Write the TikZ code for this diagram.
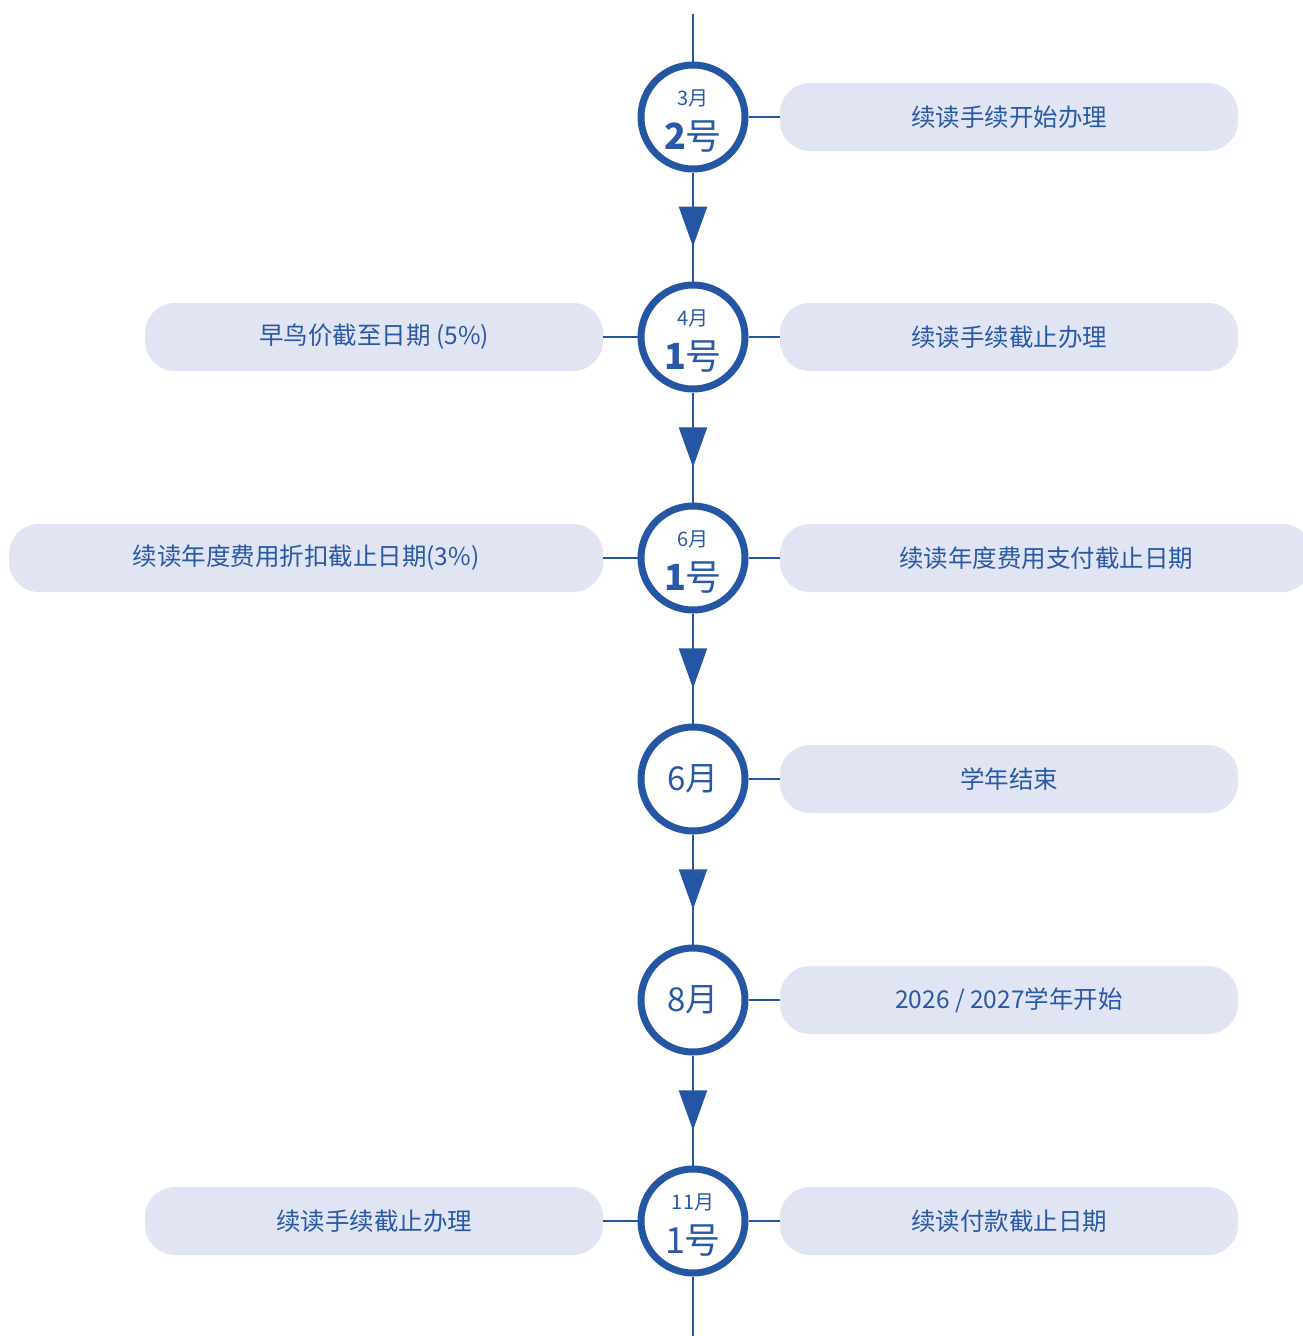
\documentclass[tikz,border=0pt]{standalone}
\usepackage{fontspec}
\setmainfont{Noto Sans CJK SC}
\usepackage{tikz}
\usetikzlibrary{arrows.meta,decorations.markings}
\usepackage{xcolor}
\definecolor{tlblue}{RGB}{36,86,163}
\definecolor{tltext}{RGB}{40,88,166}
\definecolor{tlpill}{RGB}{225,229,243}

\begin{document}
\begin{tikzpicture}[x=1pt,y=-1pt,>=Stealth]

% canvas
\fill[white] (0,0) rectangle (1302,1336);
\useasboundingbox (0,0) rectangle (1302,1336);

\tikzset{
  datering/.style={
    circle,
    draw=tlblue,
    fill=white,
    line width=7pt,
    minimum size=104pt,
    inner sep=0pt,
    align=center,
    text=tltext,
    font=\fontsize{36}{44}\selectfont
  },
  pill/.style={
    fill=tlpill,
    rounded corners=30pt,
    minimum height=68pt,
    inner sep=0pt,
    text=tltext,
    font=\fontsize{24.5}{27}\selectfont
  },
  spine/.style={
    draw=tlblue,
    line width=2.4pt
  },
  flowdown/.style={
    spine,
    postaction={decorate},
    decoration={markings,
      mark=at position 0.68 with {\arrow[tlblue]{Triangle[length=40pt,width=28pt]}}}
  },
  tie/.style={
    draw=tlblue,
    line width=2.4pt
  }
}

% date rings — x=693, step about 221 from cy=117 to cy=1221
\node[datering] (d1) at (693,117)
  {\rule{0pt}{24pt}{\fontsize{20}{44}\selectfont 3月}\\{\bfseries 2}号};
\node[datering] (d2) at (693,337)
  {\rule{0pt}{24pt}{\fontsize{20}{44}\selectfont 4月}\\{\bfseries 1}号};
\node[datering] (d3) at (693,558)
  {\rule{0pt}{24pt}{\fontsize{20}{44}\selectfont 6月}\\{\bfseries 1}号};
\node[datering,font=\fontsize{33}{36}\selectfont] (d4) at (693,779) {6月};
\node[datering,font=\fontsize{33}{36}\selectfont] (d5) at (693,1000) {8月};
\node[datering] (d6) at (693,1221)
  {\rule{0pt}{24pt}{\fontsize{20}{44}\selectfont 11月}\\1号};

% right pills
\node[pill,minimum width=458pt] (r1) at (1009,117) {续读手续开始办理};
\node[pill,minimum width=458pt] (r2) at (1009,337) {续读手续截止办理};
\node[pill,minimum width=532pt] (r3) at (1046,558) {续读年度费用支付截止日期};
\node[pill,minimum width=458pt] (r4) at (1009,779) {学年结束};
\node[pill,minimum width=458pt] (r5) at (1009,1000) {2026 / 2027学年开始};
\node[pill,minimum width=458pt] (r6) at (1009,1221) {续读付款截止日期};

% left pills
\node[pill,minimum width=458pt] (l2) at (374,337) {早鸟价截至日期 (5\%)};
\node[pill,minimum width=594pt] (l3) at (306,558) {续读年度费用折扣截止日期(3\%)};
\node[pill,minimum width=458pt] (l6) at (374,1221) {续读手续截止办理};

% spine ends
\coordinate (top) at (693,14);
\coordinate (bottom) at (693,1336);

% spine
\draw[spine] (top) -- (d1.north);
\draw[flowdown] (d1.south) -- (d2.north);
\draw[flowdown] (d2.south) -- (d3.north);
\draw[flowdown] (d3.south) -- (d4.north);
\draw[flowdown] (d4.south) -- (d5.north);
\draw[flowdown] (d5.south) -- (d6.north);
\draw[spine] (d6.south) -- (bottom);

% ties to pills
\foreach \n in {1,...,6}{
  \draw[tie] (d\n.east) -- (r\n.west);
}
\foreach \n in {2,3,6}{
  \draw[tie] (l\n.east) -- (d\n.west);
}

\end{tikzpicture}
\end{document}
